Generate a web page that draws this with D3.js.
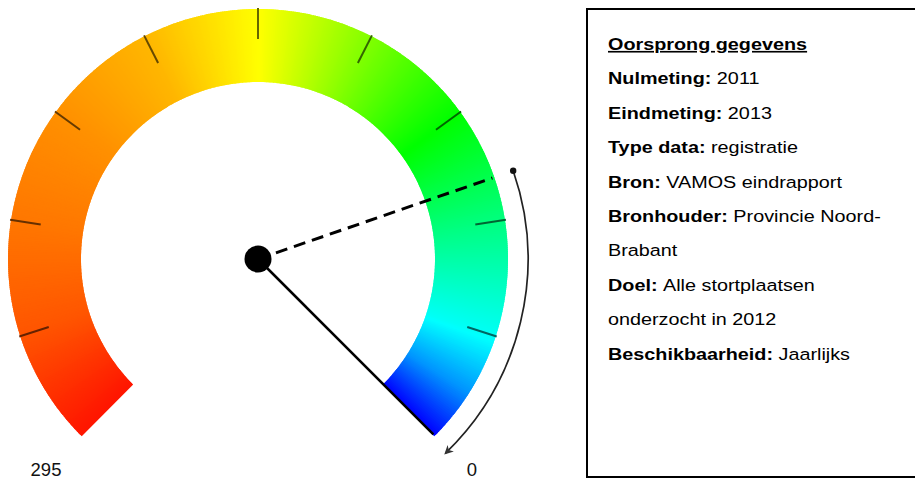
<!DOCTYPE html>
<html>
<head>
<meta charset="utf-8">
<script src="https://cdn.jsdelivr.net/npm/d3@7"></script>
<style>
  html, body { margin: 0; padding: 0; background: #fff; }
  svg { display: block; }
</style>
</head>
<body>
<svg id="chart" width="915" height="479"></svg>
<script>
// ---- data ----
const gaugeDomain = [295, 0];                 // left end, right end
const endLabels = ["295", "0"];
const tickValues = [265.5, 236, 206.5, 177, 147.5, 118, 88.5, 59, 29.5];
const measurementNames = ["Nulmeting", "Eindmeting"];
const measurementValues = [70, 0];
// colour of the band along the scale (value -> hue)
const hueStopValues = [295, 265.5, 236, 206.5, 177, 147.5, 118, 88.5, 59, 29.5, 14, 0];
const hueStops      = [5,   20,    28,  34,    43,  60,    90,  120,  150, 178,  205, 240];
// info panel
const infoTitle = "Oorsprong gegevens";
const infoLabels = ["Nulmeting:", "Eindmeting:", "Type data:", "Bron:", "Bronhouder:", "", "Doel:", "", "Beschikbaarheid:"];
const infoValues = ["2011", "2013", "registratie", "VAMOS eindrapport", "Provincie Noord-", "Brabant", "Alle stortplaatsen", "onderzocht in 2012", "Jaarlijks"];

// ---- layout ----
const svg = d3.select("#chart");
const cx = 258, cy = 259;
const rOuter = 250, rInner = 177;
const deg = Math.PI / 180;

const angle = d3.scaleLinear().domain(gaugeDomain).range([-135 * deg, 135 * deg]);
const hue = d3.scaleLinear().domain(hueStopValues).range(hueStops);

const g = svg.append("g").attr("transform", `translate(${cx},${cy})`);

// gradient band drawn as thin slices
const step = 0.5;
const slices = d3.range(0, 295, step);
const arc = d3.arc().innerRadius(rInner).outerRadius(rOuter);
g.selectAll("path.slice").data(slices).join("path")
  .attr("class", "slice")
  .attr("d", v => {
    const a0 = angle(Math.min(v + step, 295));
    const a1 = angle(v);
    return arc({ startAngle: a0 - 0.003, endAngle: a1 + 0.003 });
  })
  .attr("fill", v => d3.hsl(hue(v + step / 2), 1, 0.5).formatHex());

// ticks
g.selectAll("line.tick").data(tickValues).join("line")
  .attr("class", "tick")
  .attr("x1", v => 220 * Math.sin(angle(v)))
  .attr("y1", v => -220 * Math.cos(angle(v)))
  .attr("x2", v => (rOuter + 1) * Math.sin(angle(v)))
  .attr("y2", v => -(rOuter + 1) * Math.cos(angle(v)))
  .attr("stroke", v => d3.hsl(hue(v), 1, 0.2).formatHex())
  .attr("stroke-width", 2);

// end labels
const labelPos = [[46, 476], [472, 476]];
svg.selectAll("text.end").data(endLabels).join("text")
  .attr("class", "end")
  .attr("x", (d, i) => labelPos[i][0])
  .attr("y", (d, i) => labelPos[i][1])
  .attr("text-anchor", "middle")
  .attr("font-family", "'Liberation Sans', Arial, sans-serif")
  .attr("font-size", 18.5)
  .attr("fill", "#111")
  .text(d => d);

// change arrow (from Nulmeting to Eindmeting)
const rArrow = 270;
svg.append("defs").append("marker")
  .attr("id", "arrowHead")
  .attr("viewBox", "0 0 10 10")
  .attr("refX", 8).attr("refY", 5)
  .attr("markerWidth", 9).attr("markerHeight", 9)
  .attr("markerUnits", "userSpaceOnUse")
  .attr("orient", "auto")
  .append("path")
  .attr("d", "M0,0 L10,5 L0,10 L3,5 Z")
  .attr("fill", "#333");

const aStart = angle(measurementValues[0]);
const aEnd = angle(measurementValues[1]) + 1 * deg;
const p = d3.path();
p.arc(0, 0, rArrow, aStart - Math.PI / 2, aEnd - Math.PI / 2, false);
g.append("path")
  .attr("d", p.toString())
  .attr("fill", "none")
  .attr("stroke", "#222")
  .attr("stroke-width", 1.7)
  .attr("marker-end", "url(#arrowHead)");
g.append("circle")
  .attr("cx", rArrow * Math.sin(aStart))
  .attr("cy", -rArrow * Math.cos(aStart))
  .attr("r", 3.2)
  .attr("fill", "#111");

// needles: dashed = Nulmeting, solid = Eindmeting
g.selectAll("line.needle").data(measurementValues).join("line")
  .attr("class", "needle")
  .attr("x1", 0).attr("y1", 0)
  .attr("x2", v => (rOuter - 2) * Math.sin(angle(v)))
  .attr("y2", v => -(rOuter - 2) * Math.cos(angle(v)))
  .attr("stroke", "#000")
  .attr("stroke-width", (v, i) => i === 0 ? 3 : 2.5)
  .attr("stroke-dasharray", (v, i) => i === 0 ? "12,7" : null);

g.append("circle").attr("r", 13.5).attr("fill", "#000");

// ---- info panel ----
svg.append("rect")
  .attr("x", 587).attr("y", 9)
  .attr("width", 360).attr("height", 468)
  .attr("fill", "none")
  .attr("stroke", "#000")
  .attr("stroke-width", 2);

const font = "'Liberation Sans', Arial, Helvetica, sans-serif";
const tx = 608, y0 = 50, lh = 34.4, sx = 1.2, fs = 16.5;
svg.append("text")
  .attr("transform", `translate(${tx},${y0}) scale(${sx},1)`)
  .attr("font-family", font).attr("font-size", fs).attr("font-weight", "bold")
  .attr("text-decoration", "underline")
  .attr("fill", "#000")
  .text(infoTitle);

const lines = svg.selectAll("text.info").data(infoValues).join("text")
  .attr("class", "info")
  .attr("transform", (d, i) => `translate(${tx},${y0 + lh * (i + 1)}) scale(${sx},1)`)
  .attr("font-family", font).attr("font-size", fs).attr("fill", "#000");
lines.append("tspan")
  .attr("font-weight", "bold")
  .text((d, i) => infoLabels[i] ? infoLabels[i] + " " : "");
lines.append("tspan")
  .text(d => d);
</script>
</body>
</html>
